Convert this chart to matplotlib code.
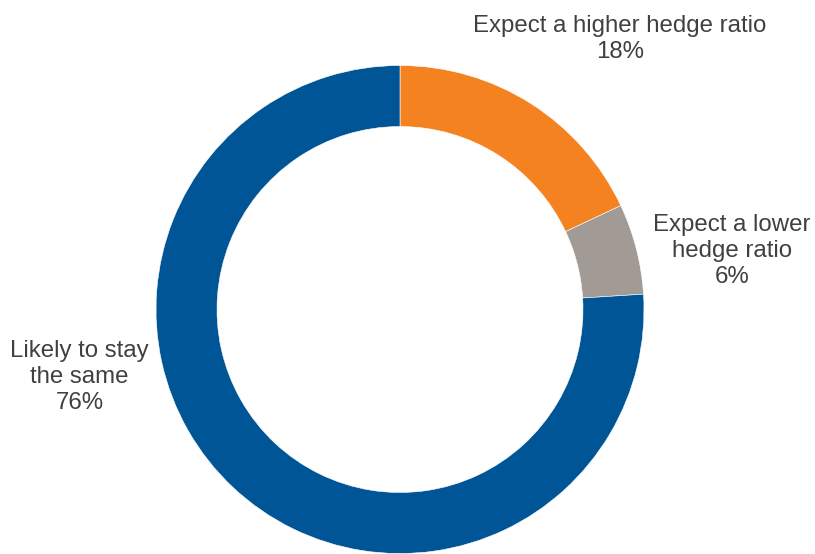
import matplotlib
matplotlib.use("Agg")
import matplotlib.pyplot as plt

# Survey responses: expected change in hedge ratio
categories = ["Expect a higher hedge ratio", "Expect a lower\nhedge ratio", "Likely to stay\nthe same"]
values = [18, 6, 76]
colors = ["#F58220", "#A29B95", "#005596"]

W, H = 815, 554
fig = plt.figure(figsize=(W / 100, H / 100), dpi=100)
ax = fig.add_axes([0, 0, 1, 1])
ax.set_xlim(0, W)
ax.set_ylim(0, H)
ax.set_aspect("equal")
ax.axis("off")

cx, cy = 400, H - 309.5
radius = 244
ax.pie(values, colors=colors, startangle=90, counterclock=False,
       center=(cx, cy), radius=radius,
       wedgeprops=dict(width=61, edgecolor="white", linewidth=0.4))
ax.set_xlim(0, W)
ax.set_ylim(0, H)

# label anchor: (center x, last-line baseline y in pixels from top)
label_pos = [(620, 58), (732, 283), (79.5, 409)]
font = dict(family=["Liberation Sans", "DejaVu Sans"], size=17.3, color="#404040")
for text, v, (x, y) in zip(categories, values, label_pos):
    ax.text(x, H - y, f"{text}\n{v}%", ha="center", va="baseline",
            multialignment="center", linespacing=1.25, **font)

fig.savefig("out.png", dpi=100)
